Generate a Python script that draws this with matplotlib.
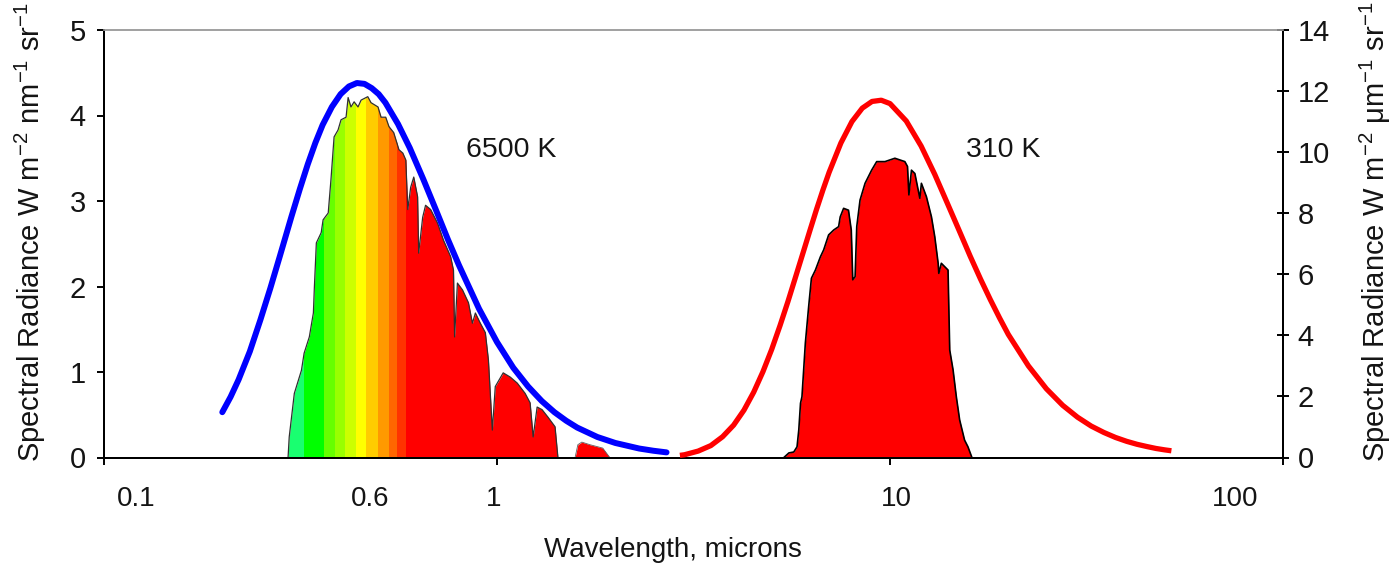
import numpy as np
import matplotlib
matplotlib.use('Agg')
import matplotlib.pyplot as plt
from matplotlib.patches import Rectangle
from matplotlib.ticker import NullLocator

plt.rcParams['font.family'] = ['Liberation Sans', 'DejaVu Sans']
plt.rcParams['mathtext.fontset'] = 'custom'
plt.rcParams['mathtext.rm'] = 'Liberation Sans'
plt.rcParams['mathtext.it'] = 'Liberation Sans:italic'

# ---------------- data ----------------
# 6500 K blackbody curve (left axis)
bb6500_wl = [0.20, 0.21, 0.22, 0.235, 0.25, 0.265, 0.28, 0.30, 0.315, 0.33, 0.345,
             0.36, 0.38, 0.40, 0.42, 0.44, 0.46, 0.48, 0.50, 0.52, 0.56, 0.60, 0.65,
             0.70, 0.75, 0.80, 0.90, 1.0, 1.1, 1.2, 1.3, 1.4, 1.5, 1.6, 1.8, 2.0,
             2.3, 2.5, 2.7]
bb6500_val = [0.53, 0.71, 0.91, 1.24, 1.61, 1.98, 2.35, 2.82, 3.14, 3.43, 3.68,
              3.89, 4.10, 4.25, 4.34, 4.38, 4.37, 4.32, 4.25, 4.15, 3.90, 3.62, 3.25,
              2.89, 2.55, 2.25, 1.74, 1.35, 1.05, 0.83, 0.66, 0.53, 0.43, 0.35, 0.24,
              0.17, 0.105, 0.079, 0.06]

# 310 K blackbody curve (right axis)
bb310_wl = [2.92, 3.0, 3.25, 3.5, 3.75, 4.0, 4.25, 4.5, 4.75, 5.0, 5.25, 5.5, 5.75,
            6.0, 6.25, 6.5, 6.75, 7.0, 7.5, 8.0, 8.5, 9.0, 9.5, 10, 11, 12, 13, 14,
            15, 16, 17, 18, 19, 20, 22.5, 25, 27.5, 30, 32.5, 35, 37.5, 40, 42.5,
            45, 47.5, 50, 52]
bb310_val = [0.07, 0.09, 0.21, 0.39, 0.68, 1.06, 1.55, 2.14, 2.81, 3.54, 4.32, 5.11,
             5.91, 6.68, 7.42, 8.12, 8.76, 9.34, 10.3, 11.0, 11.44, 11.66, 11.7,
             11.59, 11.02, 10.2, 9.27, 8.32, 7.43, 6.59, 5.84, 5.17, 4.57, 4.03,
             3.00, 2.25, 1.71, 1.32, 1.03, 0.82, 0.655, 0.53, 0.433, 0.36, 0.296,
             0.25, 0.22]

# Solar-type spectrum (left axis), main part
sun_wl = [0.294, 0.296, 0.305, 0.318, 0.323, 0.333, 0.341, 0.343, 0.347, 0.357, 0.361,
          0.372, 0.378, 0.385, 0.394, 0.401, 0.413, 0.418, 0.425, 0.433, 0.443, 0.451,
          0.469, 0.478, 0.498, 0.507, 0.521, 0.531, 0.546, 0.563, 0.576, 0.586, 0.593,
          0.603, 0.614, 0.628, 0.632, 0.647, 0.658, 0.678, 0.706, 0.731, 0.762, 0.775,
          0.780, 0.793, 0.817, 0.846, 0.866, 0.881, 0.907, 0.934, 0.951, 0.973, 0.990,
          1.037, 1.081, 1.126, 1.179, 1.214, 1.236, 1.265, 1.302, 1.349, 1.405, 1.429]
sun_val = [0.0, 0.24, 0.75, 1.02, 1.22, 1.41, 1.69, 1.99, 2.51, 2.63, 2.78,
           2.86, 3.25, 3.75, 3.83, 3.95, 3.98, 4.21, 4.10, 4.16, 4.10, 4.18,
           4.22, 4.15, 4.10, 3.98, 3.98, 3.87, 3.80, 3.60, 3.56, 3.48, 2.90,
           3.16, 3.28, 3.05, 2.39, 2.81, 2.95, 2.90, 2.74, 2.54, 2.35, 2.19,
           1.41, 2.04, 1.96, 1.81, 1.57, 1.69, 1.57, 1.46, 1.14, 0.32, 0.83,
           0.99, 0.94, 0.87, 0.75, 0.64, 0.24, 0.59, 0.56, 0.47, 0.36, 0.0]
# Solar-type spectrum, small second part
sun2_wl = [1.58, 1.606, 1.644, 1.723, 1.858, 1.936]
sun2_val = [0.0, 0.15, 0.18, 0.15, 0.11, 0.0]

# Colour bands of the visible part (wavelength edges and colours)
band_edges = [0.292, 0.3228, 0.363, 0.3871, 0.4104, 0.4378, 0.4642, 0.4981,
              0.5311, 0.5567, 0.5869, 2.5]
band_colors = ['#19ff70', '#00ff00', '#66ff00', '#99ff00', '#ccff00', '#ffff00',
               '#ffcc00', '#ff9900', '#ff6600', '#ff3300', '#ff0000']

# Earth thermal emission spectrum (right axis)
earth_wl = [5.37, 5.53, 5.69, 5.80, 5.86, 5.92, 5.97, 6.03, 6.09, 6.21, 6.31, 6.46,
            6.65, 6.78, 6.98, 7.19, 7.40, 7.47, 7.62, 7.84, 7.97, 8.04, 8.15, 8.23,
            8.39, 8.64, 8.98, 9.25, 9.71, 10.29, 10.91, 11.08, 11.17, 11.34, 11.57,
            11.91, 12.02, 12.38, 12.75, 13.00, 13.26, 13.31, 13.51, 14.05, 14.19,
            14.47, 14.75, 15.04, 15.48, 15.79, 16.16]
earth_val = [0.0, 0.15, 0.18, 0.35, 0.90, 1.78, 1.99, 2.87, 3.75, 4.95, 5.87, 6.14,
             6.57, 6.80, 7.29, 7.45, 7.56, 7.88, 8.16, 8.10, 7.45, 5.82, 5.92, 7.56,
             8.43, 8.98, 9.41, 9.69, 9.69, 9.80, 9.69, 9.53, 8.60, 9.41, 9.30,
             8.49, 8.98, 8.54, 7.88, 7.23, 6.36, 6.03, 6.36, 6.14, 3.52,
             2.87, 1.99, 1.23, 0.57, 0.35, 0.0]

xtick_major = [0.1, 1, 10, 100]
xtick_labels = ['0.1', '0.6', '1', '10', '100']
xtick_label_pos = [0.1206, 0.475, 0.983, 10.36, 75.5]
left_yticks = [0, 1, 2, 3, 4, 5]
right_yticks = [0, 2, 4, 6, 8, 10, 12, 14]

# ---------------- figure ----------------
W, H = 1390, 573
fig = plt.figure(figsize=(W / 100, H / 100), dpi=100)
L, R, T, B = 104, 1283, 30, 457.5
ax = fig.add_axes([L / W, 1 - B / H, (R - L) / W, (B - T) / H])
ax.set_xscale('log')
ax.set_xlim(0.1, 100)
ax.set_ylim(0, 5)
ax2 = ax.twinx()
ax2.set_ylim(0, 14)

# solar spectrum coloured bands
for i, c in enumerate(band_colors):
    a, b = band_edges[i], band_edges[i + 1]
    poly = ax.fill_between(sun_wl, 0, sun_val, color=c, lw=0, zorder=2)
    clip = Rectangle((a, 0), b - a, 10, transform=ax.transData)
    poly.set_clip_path(clip)
ax.fill_between(sun2_wl, 0, sun2_val, color='#ff0000', lw=0, zorder=2)
ax.plot(sun_wl, sun_val, color='#303030', lw=0.9, zorder=3)
ax.plot(sun2_wl, sun2_val, color='#606060', lw=0.6, zorder=3)

# blackbody 6500 K
ax.plot(bb6500_wl, bb6500_val, color='#0000ff', lw=4.3, solid_capstyle='round',
        solid_joinstyle='round', zorder=4)

# earth spectrum and 310 K curve
ax2.fill_between(earth_wl, 0, earth_val, color='#ff0000', lw=0, zorder=2)
ax2.plot(earth_wl, earth_val, color='black', lw=1.2, zorder=3)
ax2.plot(bb310_wl, bb310_val, color='#ff0000', lw=3.8, solid_capstyle='butt',
         solid_joinstyle='round', zorder=4)

# spines
for a_ in (ax, ax2):
    a_.spines['top'].set_color('#a0a0a0')
    a_.spines['top'].set_linewidth(1.2)
    for s in ('left', 'bottom', 'right'):
        a_.spines[s].set_color('black')
        a_.spines[s].set_linewidth(1.4)

txt_color = '#141414'
# x ticks (marks only) and manually placed labels
ax.set_xticks(xtick_major, labels=[''] * len(xtick_major))
ax.xaxis.set_minor_locator(NullLocator())
ax.tick_params(axis='x', which='major', direction='out', length=5, width=1.4)
xlab_trans = ax.get_xaxis_transform()
for pos, lab in zip(xtick_label_pos, xtick_labels):
    ax.text(pos, -0.098, lab, transform=xlab_trans, ha='center', va='center',
            fontsize=20, color=txt_color, clip_on=False)

# y ticks
ax.set_yticks(left_yticks)
ax.tick_params(axis='y', direction='out', length=5, width=1.4, pad=8,
               labelsize=21, labelcolor=txt_color)
ax2.set_yticks(right_yticks)
ax2.tick_params(axis='y', direction='inout', length=9, width=1.4, pad=6,
                labelsize=21, labelcolor=txt_color)
ax2.minorticks_off()

# labels
fig.text(673 / W, 1 - 550 / H, 'Wavelength, microns', ha='center', va='center',
         fontsize=20, color=txt_color)
fig.text(30 / W, 1 - 232 / H,
         r'Spectral Radiance W m$^{\mathregular{-2}}$ nm$^{\mathregular{-1}}$ sr$^{\mathregular{-1}}$',
         rotation=90, ha='center', va='center', fontsize=21, color=txt_color)
fig.text(1375 / W, 1 - 232 / H,
         r'Spectral Radiance W m$^{\mathregular{-2}}$ $\mathregular{\mu}$m$^{\mathregular{-1}}$ sr$^{\mathregular{-1}}$',
         rotation=90, ha='center', va='center', fontsize=21, color=txt_color)

ax.text(0.345, 0.719, '6500 K', transform=ax.transAxes, ha='center', va='center',
        fontsize=20.5, color=txt_color, zorder=5)
ax.text(0.7625, 0.719, '310 K', transform=ax.transAxes, ha='center', va='center',
        fontsize=20.5, color=txt_color, zorder=5)

fig.savefig('out.png', dpi=100)
